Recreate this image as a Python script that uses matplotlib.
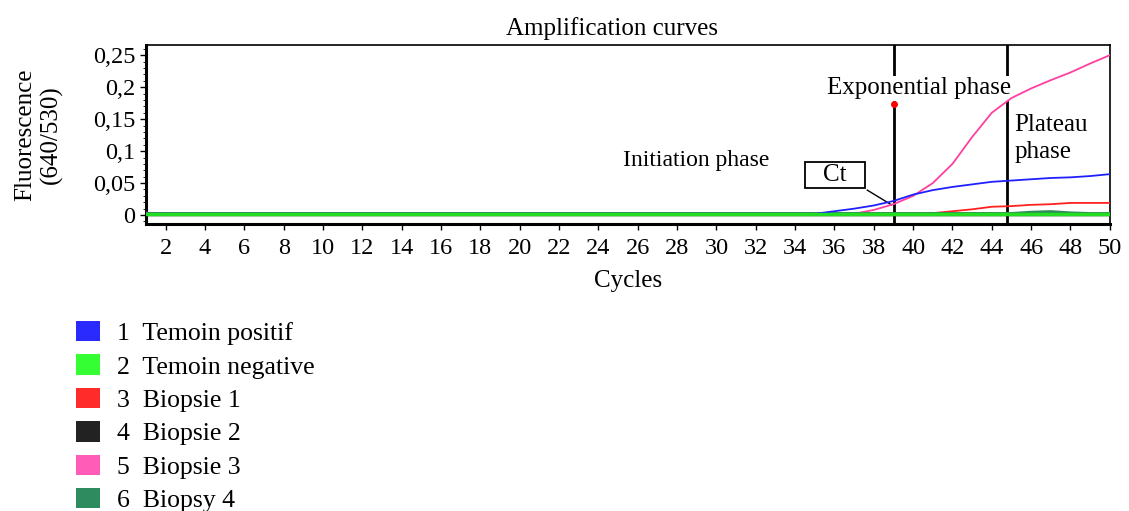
import numpy as np
import matplotlib
matplotlib.use("Agg")
import matplotlib.pyplot as plt
from matplotlib.patches import Patch, Rectangle
from matplotlib.ticker import MultipleLocator, FuncFormatter

plt.rcParams['font.family'] = ['Liberation Serif', 'DejaVu Serif']

cycles = np.arange(1, 51)
base = [0.002] * 34

# (cycles 35..50), flat baseline before
temoin_pos = base + [0.002, 0.006, 0.010, 0.015, 0.022, 0.032, 0.039, 0.044,
                     0.048, 0.052, 0.054, 0.056, 0.058, 0.059, 0.061, 0.064]
temoin_neg = base + [0.002] * 16
biopsie1 = base + [0.002, 0.002, 0.002, 0.002, 0.002, 0.002, 0.003, 0.006,
                   0.009, 0.013, 0.014, 0.016, 0.017, 0.019, 0.019, 0.019]
biopsie2 = base + [0.002] * 16
biopsie3 = [0.004] + [0.002] * 33 + [0.002, 0.002, 0.002, 0.008, 0.017, 0.030,
                                      0.050, 0.080, 0.122, 0.160, 0.183, 0.198,
                                      0.211, 0.223, 0.237, 0.250]
biopsy4 = base + [0.002] * 11 + [0.004, 0.005, 0.003, 0.002, 0.002]

series = [biopsie2, biopsie1, biopsie3, biopsy4, temoin_pos, temoin_neg]
colors = ['#202020', '#ff2020', '#ff3fa0', '#2e8b57', '#2020ff', '#22dd22']

legend_labels = ["1  Temoin positif", "2  Temoin negative", "3  Biopsie 1",
                 "4  Biopsie 2", "5  Biopsie 3", "6  Biopsy 4"]
legend_colors = ['#2a2aff', '#33ff33', '#ff2a2a', '#222222', '#ff5cb8', '#2e8b60']

ct_value = 39.05
plateau_start = 44.75

fig = plt.figure(figsize=(11.29, 5.11), dpi=100)
ax = fig.add_axes([0.1293, 0.5616, 0.8537, 0.3504])

for s, c in zip(series, colors):
    lw = 2.5 if max(s) < 0.01 else 1.3
    ax.plot(cycles, s, color=c, lw=lw, zorder=4)

ax.axvline(ct_value, color='black', lw=2, zorder=2)
ax.axvline(plateau_start, color='black', lw=2, zorder=2)
ax.plot([ct_value], [0.173], 'o', color='red', ms=4, zorder=5)

ax.set_xlim(1, 50)
ax.set_ylim(-0.014, 0.266)
ax.set_xticks(np.arange(2, 51, 2))
ax.set_yticks([0, 0.05, 0.1, 0.15, 0.2, 0.25])
ax.yaxis.set_minor_locator(MultipleLocator(0.01))
ax.yaxis.set_major_formatter(FuncFormatter(lambda v, p: ('%g' % round(v, 3)).replace('.', ',')))
ax.tick_params(axis='x', pad=6)
ax.tick_params(labelsize=17.5, length=4, width=1)
ax.tick_params(which='minor', length=2)
for side in ['left', 'bottom']:
    ax.spines[side].set_linewidth(2.2)
for side in ['top', 'right']:
    ax.spines[side].set_linewidth(1.2)

ax.set_title("Amplification curves", fontsize=18, pad=7, x=0.483)
ax.set_xlabel("Cycles", fontsize=18, labelpad=8)
ax.set_ylabel("Fluorescence\n(640/530)", fontsize=18, labelpad=22)

ax.text(40.3, 0.198, "Exponential phase", fontsize=18, ha='center', va='center',
        bbox=dict(fc='white', ec='none', pad=1), zorder=3)
ax.text(45.15, 0.12, "Plateau\nphase", fontsize=18, ha='left', va='center',
        linespacing=1.3, zorder=3)
ax.text(28.97, 0.086, "Initiation phase", fontsize=17, ha='center', va='center')

# Ct box + leader line
ax.add_patch(Rectangle((34.5, 0.042), 3.05, 0.041, fc='white', ec='black',
                       lw=1.3, zorder=3))
ax.text(36.02, 0.0625, "Ct", fontsize=18, ha='center', va='center', zorder=4)
ax.plot([37.67, 38.9], [0.039, 0.016], color='black', lw=1, zorder=3)

handles = [Patch(fc=c, ec='none') for c in legend_colors]
fig.legend(handles, legend_labels, loc='upper left',
           bbox_to_anchor=(76 / 1129, 1 - 321 / 511), frameon=False,
           fontsize=18.5, borderpad=0, borderaxespad=0, handlelength=0.95,
           handleheight=0.85, handletextpad=0.65, labelspacing=0.36)

fig.savefig("out.png", dpi=100)
